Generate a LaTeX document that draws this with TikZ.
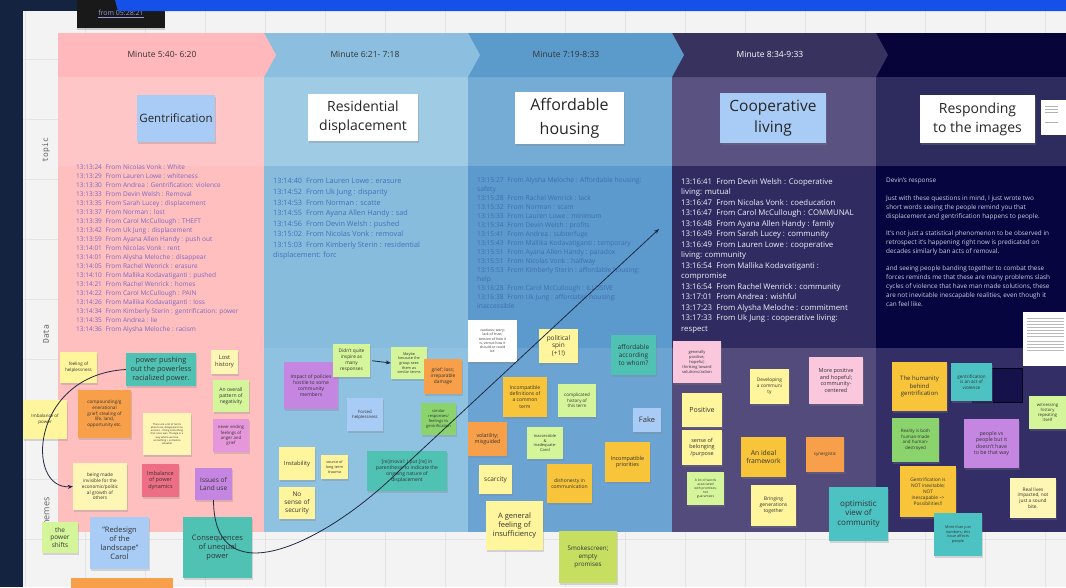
\documentclass[tikz,border=0pt]{standalone}
\usepackage{fontspec}
\usepackage{graphicx}
\setmainfont{Open Sans}
\newfontfamily\monof{DejaVu Sans Mono}
\usetikzlibrary{arrows.meta,shadows}
\definecolor{navy}{HTML}{14233F}
\definecolor{barblue}{HTML}{1550E8}
\definecolor{canvas}{HTML}{F3F3F3}
\definecolor{gridc}{HTML}{E4E4E4}
\definecolor{c1h}{HTML}{FFB8BB}\definecolor{c1t}{HTML}{FFC6C7}\definecolor{c1d}{HTML}{FFBFBF}\definecolor{c1m}{HTML}{FFBFBF}
\definecolor{c2h}{HTML}{8CBFDF}\definecolor{c2t}{HTML}{9FCBE4}\definecolor{c2d}{HTML}{88BCDD}\definecolor{c2m}{HTML}{8FC2E0}
\definecolor{c3h}{HTML}{5B9BCC}\definecolor{c3t}{HTML}{74ACD6}\definecolor{c3d}{HTML}{5C99CC}\definecolor{c3m}{HTML}{6BA4D2}
\definecolor{c4h}{HTML}{38325F}\definecolor{c4t}{HTML}{5A5381}\definecolor{c4d}{HTML}{302B61}\definecolor{c4m}{HTML}{534B7B}
\definecolor{c5h}{HTML}{07043A}\definecolor{c5t}{HTML}{2E2B5F}\definecolor{c5d}{HTML}{07053F}\definecolor{c5m}{HTML}{332E66}
\definecolor{syel}{HTML}{FFF59D}\definecolor{spale}{HTML}{FEF6B4}\definecolor{sgold}{HTML}{F8C53A}
\definecolor{sorange}{HTML}{F7A049}\definecolor{steal}{HTML}{4FC2B3}\definecolor{scyan}{HTML}{4CC3C2}
\definecolor{slgreen}{HTML}{D5F59A}\definecolor{sgreen}{HTML}{8BD46D}\definecolor{sblue}{HTML}{A9CCF6}
\definecolor{spurple}{HTML}{C586E2}\definecolor{spink}{HTML}{FAC7DD}\definecolor{smag}{HTML}{E696DA}
\definecolor{sred}{HTML}{EE6F85}\definecolor{sygreen}{HTML}{C6DF60}
\definecolor{txtd}{HTML}{333333}
\definecolor{d1c}{HTML}{7C68C4}\definecolor{d2c}{HTML}{3F72BC}\definecolor{d3c}{HTML}{3F6FB2}
\definecolor{d4c}{HTML}{F2F2F8}\definecolor{d5c}{HTML}{CFCFE0}
\definecolor{linec}{HTML}{1E2A44}
\newcommand\fz[1]{\fontsize{#1}{\fpeval{1.22*#1}}\selectfont}
\newcommand\T[1]{#1\hspace{0.55em}}
\newcommand\sticky[7]{\node[sn=#1,minimum width=#4,minimum height=#5,font=\fz{#6}] (#2) at (#3) {#7};}
\tikzset{
  sn/.style={fill=#1, align=center, inner sep=0.5pt, text=txtd,
    drop shadow={opacity=0.28, shadow xshift=0.7pt, shadow yshift=-1.6pt}},
  topicbox/.style={fill=#1, align=center, inner sep=1pt, text=black!85,
    drop shadow={opacity=0.3, shadow xshift=0.8pt, shadow yshift=-2pt}},
  hlab/.style={font=\fz{8.5}, text=black!80},
  dtxt/.style={anchor=north west, align=left, inner sep=0pt},
  arr/.style={draw=linec, line width=0.8pt, -{Stealth[length=5pt,width=4pt]}},
  sidelab/.style={rotate=90, text=black!60}
}
\begin{document}
\begin{tikzpicture}[x=1pt,y=-1pt]
\useasboundingbox (0,0) rectangle (1066,587);
\clip (0,0) rectangle (1066,587);
% background
\fill[navy] (0,0) rectangle (1066,587);
\fill[canvas] (23,11) rectangle (1066,587);
\foreach \x in {25,85,...,1045} \draw[gridc, line width=0.5pt] (\x,11) -- (\x,587);
\foreach \y in {59,119,...,587} \draw[gridc, line width=0.5pt] (23,\y) -- (1066,\y);
% top black box and blue bar
\path[fill=black!90, drop shadow={opacity=0.35, shadow xshift=0pt, shadow yshift=-2pt}] (77,0) rectangle (165,28);
\node[font=\fz{7}, text=black!35!blue!40!white, inner sep=0pt] (stamp) at (121,14) {\underline{from 05:28:21}};
\fill[barblue] (115,0) -- (1066,0) -- (1066,11) -- (118,11) -- cycle;
% column bodies
\fill[c1t] (58,77) rectangle (264,166); \fill[c1d] (58,166) rectangle (264,348); \fill[c1m] (58,348) rectangle (264,532);
\fill[c2t] (264,77) rectangle (468,166); \fill[c2d] (264,166) rectangle (468,348); \fill[c2m] (264,348) rectangle (468,532);
\fill[c3t] (468,77) rectangle (672,166); \fill[c3d] (468,166) rectangle (672,348); \fill[c3m] (468,348) rectangle (672,532);
\fill[c4t] (672,77) rectangle (876,166); \fill[c4d] (672,166) rectangle (876,348); \fill[c4m] (672,348) rectangle (876,532);
\fill[c5t] (876,77) rectangle (1066,166); \fill[c5d] (876,166) rectangle (1066,348); \fill[c5m] (876,348) rectangle (1066,532);
% header chevrons (right to left)
\fill[c5h] (876,33) rectangle (1066,77);
\fill[c4h] (672,33) -- (876,33) -- (888,55) -- (876,77) -- (672,77) -- cycle;
\fill[c3h] (468,33) -- (672,33) -- (684,55) -- (672,77) -- (468,77) -- cycle;
\fill[c2h] (264,33) -- (468,33) -- (480,55) -- (468,77) -- (264,77) -- cycle;
\fill[c1h] (58,33) -- (264,33) -- (276,55) -- (264,77) -- (58,77) -- cycle;
\node[hlab] (h1) at (162,54) {Minute 5:40- 6:20};
\node[hlab] (h2) at (365,54) {Minute 6:21- 7:18};
\node[hlab] (h3) at (566,54) {Minute 7:19-8:33};
\node[hlab, text=white] (h4) at (770,54) {Minute 8:34-9:33};
% side labels
\node[sidelab, font=\monof\fz{8}] (ltopic) at (46,150) {topic};
\node[sidelab, font=\monof\fz{8}] (ldata) at (46,334) {Data};
\node[sidelab, font=\fz{9}] (lthemes) at (46,514) {Themes};
% topics
\node[topicbox=sblue, minimum width=78, minimum height=47, font=\fz{11.5}] (t1) at (176,118) {Gentrification};
\node[topicbox=white, minimum width=110, minimum height=47, font=\fontsize{14}{19}\selectfont] (t2) at (363,117) {Residential\\displacement};
\node[topicbox=white, minimum width=109, minimum height=52, font=\fontsize{16}{24}\selectfont] (t3) at (569.5,118) {Affordable\\housing};
\node[topicbox=sblue, minimum width=106, minimum height=50, font=\fontsize{15.5}{21}\selectfont] (t4) at (773,118) {Cooperative\\living};
\node[topicbox=white, minimum width=115, minimum height=48, font=\fontsize{14}{19}\selectfont] (t5) at (977.5,119) {Responding\\to the images};
\node[fill=white, minimum width=25, minimum height=35, inner sep=0pt] (card1) at (1053.5,117.5) {};
\foreach \yy in {106,109,112,122} \draw[gray!60, line width=0.6pt] (1045,\yy) -- (1058,\yy);
% data texts
\node[dtxt, text=d1c, font=\fontsize{6.5}{9}\selectfont] (data1) at (76,164.5) {%
\T{13:13:24}From Nicolas Vonk : White\\
\T{13:13:29}From Lauren Lowe : whiteness\\
\T{13:13:30}From Andrea : Gentrification: violence\\
\T{13:13:33}From Devin Welsh : Removal\\
\T{13:13:35}From Sarah Lucey : displacement\\
\T{13:13:37}From Norman : lost\\
\T{13:13:39}From Carol McCullough : THEFT\\
\T{13:13:42}From Uk Jung : displacement\\
\T{13:13:59}From Ayana Allen Handy : push out\\
\T{13:14:01}From Nicolas Vonk : rent\\
\T{13:14:01}From Alysha Meloche : disappear\\
\T{13:14:05}From Rachel Wenrick : erasure\\
\T{13:14:10}From Mallika Kodavatiganti : pushed\\
\T{13:14:21}From Rachel Wenrick : homes\\
\T{13:14:22}From Carol McCullough : PAIN\\
\T{13:14:26}From Mallika Kodavatiganti : loss\\
\T{13:14:34}From Kimberly Sterin : gentrification: power\\
\T{13:14:35}From Andrea : lie\\
\T{13:14:36}From Alysha Meloche : racism};
\node[dtxt, text=d2c, font=\fontsize{7.3}{10.57}\selectfont] (data2) at (273,178.5) {%
\T{13:14:40}From Lauren Lowe : erasure\\
\T{13:14:52}From Uk Jung : disparity\\
\T{13:14:53}From Norman : scatte\\
\T{13:14:55}From Ayana Allen Handy : sad\\
\T{13:14:56}From Devin Welsh : pushed\\
\T{13:15:02}From Nicolas Vonk : removal\\
\T{13:15:03}From Kimberly Sterin : residential\\
displacement: forc};
\node[dtxt, text=d3c, font=\fontsize{6.7}{9}\selectfont] (data3) at (477,176.8) {%
\T{13:15:27}From Alysha Meloche : Affordable housing:\\
safety\\
\T{13:15:28}From Rachel Wenrick : lack\\
\T{13:15:32}From Norman : scam\\
\T{13:15:33}From Lauren Lowe : minimum\\
\T{13:15:34}From Devin Welsh : profits\\
\T{13:15:41}From Andrea : subterfuge\\
\T{13:15:43}From Mallika Kodavatiganti : temporary\\
\T{13:15:51}From Ayana Allen Handy : paradox\\
\T{13:15:51}From Nicolas Vonk : halfway\\
\T{13:15:53}From Kimberly Sterin : affordable housing:\\
help\\
\T{13:16:28}From Carol McCullough : ILLUSIVE\\
\T{13:16:38}From Uk Jung : affordable housing:\\
inaccessible};
\node[dtxt, text=d4c, font=\fontsize{7.8}{10.5}\selectfont] (data4) at (681,178) {%
\T{13:16:41}From Devin Welsh : Cooperative\\
living: mutual\\
\T{13:16:47}From Nicolas Vonk : coeducation\\
\T{13:16:47}From Carol McCullough : COMMUNAL\\
\T{13:16:48}From Ayana Allen Handy : family\\
\T{13:16:49}From Sarah Lucey : community\\
\T{13:16:49}From Lauren Lowe : cooperative\\
living: community\\
\T{13:16:54}From Mallika Kodavatiganti :\\
compromise\\
\T{13:16:54}From Rachel Wenrick : community\\
\T{13:17:01}From Andrea : wishful\\
\T{13:17:23}From Alysha Meloche : commitment\\
\T{13:17:33}From Uk Jung : cooperative living:\\
respect};
\node[dtxt, text=d5c, font=\fontsize{6.4}{8.8}\selectfont] (data5) at (886,178) {%
Devin's response\\[8.8pt]
Just with these questions in mind, I just wrote two\\
short words seeing the people remind you that\\
displacement and gentrification happens to people.\\[8.8pt]
It's not just a statistical phenomenon to be observed in\\
retrospect it's happening right now is predicated on\\
decades similarly ban acts of removal.\\[8.8pt]
and seeing people banding together to combat these\\
forces reminds me that these are many problems slash\\
cycles of violence that have man made solutions, these\\
are not inevitable inescapable realities, even though it\\
can feel like.};
\node[fill=white, minimum width=43, minimum height=54, inner sep=0pt] (card2) at (1044.5,339) {};
\foreach \yy in {318,321,324,327,330,333,336,341,344,347,350} \draw[gray!55, line width=0.5pt] (1027,\yy) -- (1064,\yy);
% ---------- themes: column 1
\sticky{syel}{fh}{78.5,367.5}{37}{31}{4.5}{feeling of\\helplessness}
\sticky{steal}{power}{161,369.5}{70}{33}{7.3}{power pushing\\out the powerless\\racialized power.}
\sticky{spale}{lost}{224.5,362}{27}{24}{5.8}{Lost\\history}
\sticky{syel}{imb}{45,419.5}{44}{39}{4.5}{Imbalance of\\power}
\sticky{sorange}{comp}{104.5,414}{53}{48}{4.6}{compounding/g\\enerational\\grief; stealing of\\life, land,\\opportunity etc.}
\sticky{spale}{tiny}{167,434}{48}{42}{2.6}{There are a lot of terms\\about loss, disappearance,\\erasure - losing something\\that once was. Change in a\\way where we lose\\something + someone\\valuable}
\sticky{slgreen}{overall}{231,396}{36}{32}{5}{An overall\\pattern of\\negativity}
\sticky{smag}{never}{231,435.5}{36}{33}{4.3}{never ending\\feelings of\\anger and\\grief}
\sticky{spale}{invis}{100,486.5}{54}{47}{4.7}{being made\\invisible for the\\economic/politic\\al growth of\\others}
\sticky{sred}{dyn}{160.5,480.5}{37}{33}{5.5}{Imbalance\\of power\\dynamics}
\sticky{spurple}{land}{213.5,484}{37}{32}{6.5}{Issues of\\Land use}
\sticky{slgreen}{shifts}{60,537.5}{36}{31}{6.5}{the\\power\\shifts}
\sticky{sblue}{redesign}{119.5,543}{59}{52}{7.5}{"Redesign\\of the\\landscape"\\Carol}
\sticky{steal}{conseq}{217.5,547.5}{69}{61}{7.5}{Consequences\\of unequal\\power}
\fill[sorange] (71,578) rectangle (173,590);
% ---------- themes: column 2
\sticky{spurple}{impact}{311,385.5}{54}{47}{5}{Impact of policies\\hostile to some\\community\\members}
\sticky{slgreen}{didnt}{351.5,360.5}{37}{33}{4.8}{Didn't quite\\inspire as\\many\\responses}
\sticky{slgreen}{maybe}{409,363}{36}{32}{3.8}{Maybe\\because the\\group sees\\them as\\similar terms}
\sticky{sorange}{grief}{443,376.5}{38}{35}{4.8}{grief; loss;\\irreparable\\damage}
\sticky{sblue}{forced}{365,414.5}{36}{33}{4.3}{Forced\\helplessness}
\sticky{sgreen}{similar}{438.5,419}{35}{32}{4}{similar\\responses/\\feelings to\\gentrification}
\sticky{syel}{instab}{297,463.5}{36}{33}{5.8}{Instability}
\sticky{syel}{trauma}{334.5,467}{27}{24}{3.8}{source of\\long term\\trauma}
\sticky{syel}{nosense}{297,503}{36}{32}{6.5}{No\\sense of\\security}
\sticky{steal}{removal}{407,471}{80}{40}{5}{[re]moval: I put [re] in\\parenthesis to indicate the\\ongoing nature of\\displacement}
% ---------- themes: column 3
\sticky{white}{cautious}{492.5,341}{49}{42}{3.5}{cautious; wary;\\lack of trust;\\tension of how it\\is, versus how it\\should or could\\be}
\sticky{syel}{spin}{558.5,346}{39}{34}{6.5}{political\\spin\\(+1!)}
\sticky{steal}{whom}{633.5,355}{45}{40}{6.5}{affordable\\according\\to whom?}
\sticky{sgold}{incdef}{525,397}{44}{40}{5}{Incompatible\\definitions of\\a common\\term}
\sticky{slgreen}{compl}{577,400.5}{38}{33}{4.5}{complicated\\history of\\this term}
\sticky{sblue}{fake}{647,420}{28}{24}{7.5}{Fake}
\sticky{sorange}{volat}{487.5,439}{39}{34}{5.3}{volatility;\\misguided}
\sticky{slgreen}{inacc}{545,443}{36}{32}{4}{Inaccessible\\\&\\Inadequate-\\Carol}
\sticky{sgold}{incpri}{627.5,462}{45}{40}{5.5}{Incompatible\\priorities}
\sticky{syel}{scarc}{495.5,479.5}{33}{29}{6.5}{scarcity}
\sticky{sgold}{dishon}{569.5,483.5}{45}{39}{5}{dishonesty in\\communication}
\sticky{syel}{insuff}{514.5,525.5}{57}{49}{7.5}{A general\\feeling of\\insufficiency}
\sticky{sygreen}{smoke}{588,557}{58}{52}{6.3}{Smokescreen;\\empty\\promises}
% ---------- themes: column 4
\sticky{spink}{genpos}{697,362}{48}{42}{4}{generally\\positive;\\hopeful;\\thinking toward\\solutions/action}
\sticky{syel}{develop}{769.5,386.5}{39}{35}{4.8}{Developing\\a communi\\ty}
\sticky{spink}{morepos}{836,380.5}{54}{47}{5.5}{More positive\\and hopeful;\\community-\\centered}
\sticky{syel}{positive}{702,410}{40}{34}{7}{Positive}
\sticky{syel}{belong}{702,447.5}{40}{35}{5.5}{sense of\\belonging\\/purpose}
\sticky{sgold}{ideal}{763.5,457}{45}{40}{6.8}{An ideal\\framework}
\sticky{sorange}{synerg}{825,454.5}{38}{35}{4.5}{synergistic}
\sticky{slgreen}{words}{705.5,488.5}{37}{33}{3.3}{A lot of words\\associated\\with promises,\\not\\guarantees}
\sticky{syel}{bring}{773.5,505.5}{45}{41}{5}{Bringing\\generations\\together}
\sticky{scyan}{optim}{858.5,514}{59}{54}{8}{optimistic\\view of\\community}
% ---------- themes: column 5
\sticky{sgold}{humanity}{919.5,386.5}{55}{49}{6}{The humanity\\behind\\gentrification}
\fill[c5d!70!c5m, draw=black!60!c5d, line width=0.6pt] (972,368) rectangle (1022,402);
\sticky{scyan}{violence}{971.5,382}{41}{38}{4.6}{gentrification\\is an act of\\violence}
\sticky{slgreen}{witness}{1047.5,412.5}{37}{33}{4.3}{witnessing\\history\\repeating\\itself}
\sticky{sgreen}{reality}{915.5,440}{47}{44}{4.5}{Reality is both\\human-made\\and human-\\destroyed}
\sticky{spurple}{people}{991.5,443.5}{55}{49}{5.3}{people vs\\people but it\\doesn't have\\to be that way}
\sticky{sgold}{notinev}{928,491.5}{56}{51}{4.8}{Gentrification is\\NOT inevitable;\\NOT\\inescapable -->\\Possibilities!!}
\sticky{spale}{real}{1033,498}{46}{40}{4.8}{Real lives\\impacted, not\\just a sound\\bite.}
\sticky{scyan}{numbers}{958,534.5}{48}{43}{3.8}{More than just\\numbers; this\\issue affects\\people}
% ---------- connectors
\coordinate (tip) at (659,229);
\draw[arr] (power.west) .. controls (30,375) and (25,490) .. (invis.west);
\draw[arr] (land.south) .. controls (214,600) and (330,540) .. (400,470) -- (tip);
\draw[arr, shorten <=2pt] (didnt.east) -- (maybe.west);
\end{tikzpicture}
\end{document}
